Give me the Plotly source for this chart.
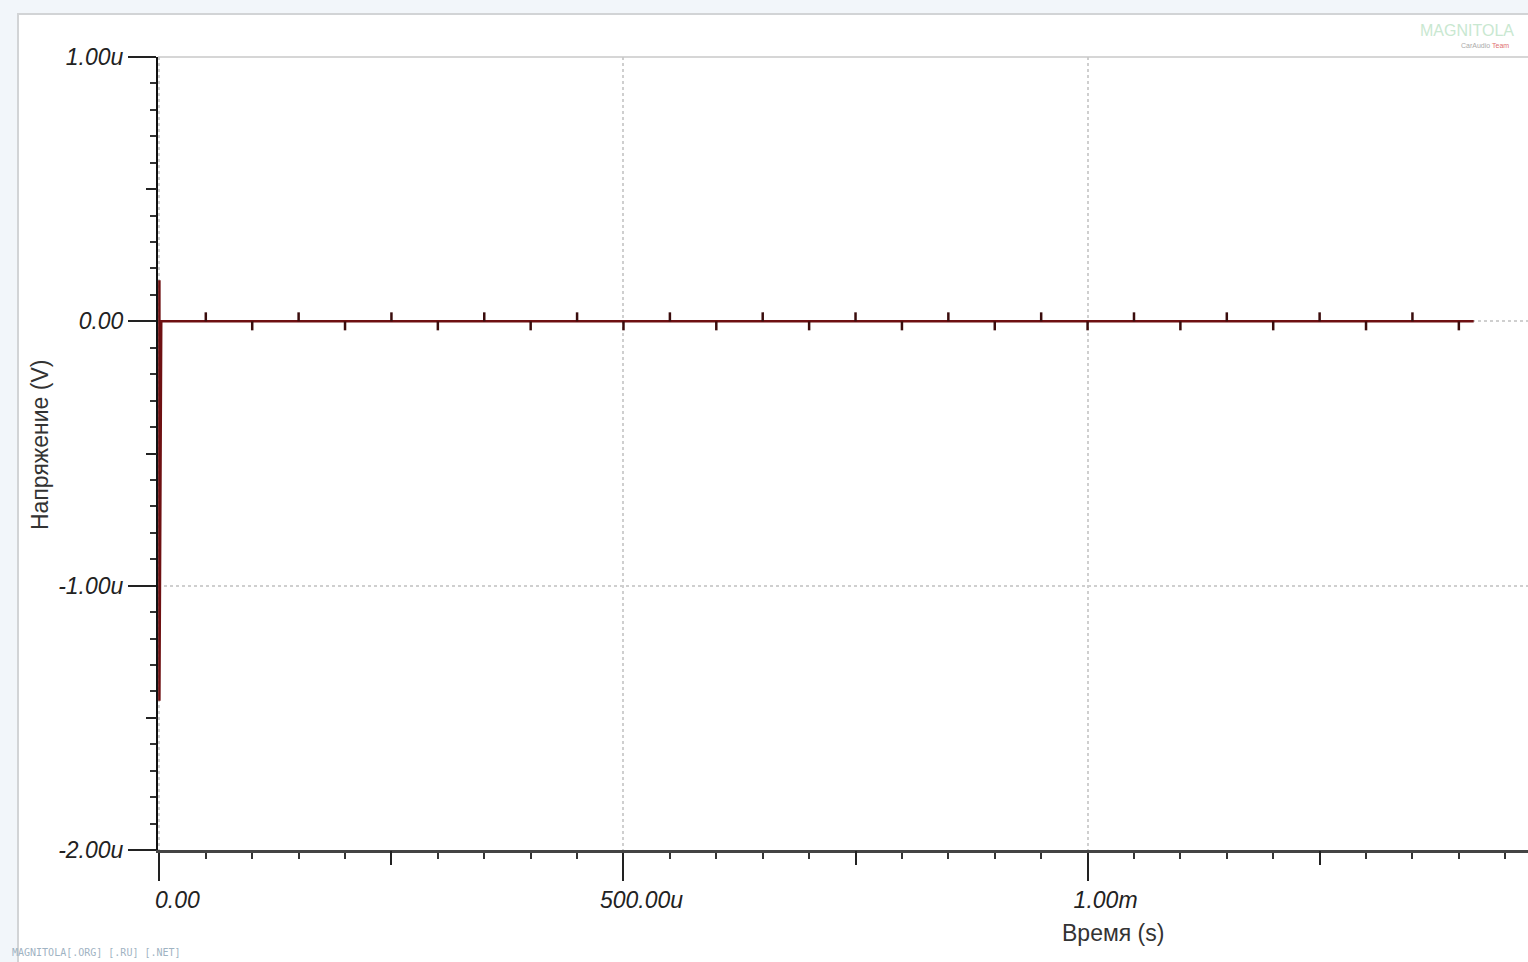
import plotly.graph_objects as go

# ---- data ----
time_s = [0.0, 0.0, 0.0, 2e-6, 1.416e-3]
voltage_v = [0.0, 0.155e-6, -1.435e-6, 0.0, 0.0]

marker_times = [50e-6 * k for k in range(1, 29)]
marker_up = [k % 2 == 1 for k in range(1, 29)]

x_tickvals = [0.0, 500e-6, 1e-3]
x_ticktext = ["0.00", "500.00u", "1.00m"]
x_midticks = [250e-6, 750e-6, 1250e-6]
y_tickvals = [1e-6, 0.0, -1e-6, -2e-6]
y_ticktext = ["1.00u", "0.00", "-1.00u", "-2.00u"]
y_midticks = [0.5e-6, -0.5e-6, -1.5e-6]

x_title = "Время (s)"
y_title = "Напряжение (V)"

# ---- figure ----
W, H = 1528, 962
ML, MR, MT, MB = 158, 0, 57, 112
XR = [-1.5e-6, 1474.5e-6]
YR = [-2e-6, 1e-6]
px_per_v = (H - MT - MB) / (YR[1] - YR[0])
tick_len_v = 9 / px_per_v

fig = go.Figure()
fig.add_trace(go.Scatter(
    x=time_s, y=voltage_v, mode="lines",
    line=dict(color="#6e1012", width=2.5),
    showlegend=False, hoverinfo="skip"))
fig.add_trace(go.Scatter(
    x=marker_times, y=[0.0] * len(marker_times), mode="markers",
    marker=dict(size=1, opacity=0),
    error_y=dict(type="data", symmetric=False,
                 array=[tick_len_v if u else 0 for u in marker_up],
                 arrayminus=[0 if u else tick_len_v for u in marker_up],
                 color="#3a0c0c", thickness=2.5, width=0),
    showlegend=False, hoverinfo="skip"))
fig.add_trace(go.Scatter(x=[], y=[], xaxis="x2", yaxis="y2", showlegend=False))

tickfont = dict(family="Liberation Sans, Arial, sans-serif", size=23, color="#222", style="italic")

fig.update_layout(
    width=W, height=H,
    margin=dict(l=ML, r=MR, t=MT, b=MB, pad=0),
    paper_bgcolor="#f2f6fa", plot_bgcolor="white",
    xaxis=dict(range=XR, tickmode="array", tickvals=x_tickvals, ticktext=x_ticktext,
               ticks="outside", ticklen=28, tickwidth=2, tickcolor="#222",
               minor=dict(tickmode="linear", tick0=0, dtick=50e-6, ticks="outside",
                          ticklen=6, tickwidth=2, tickcolor="#333", showgrid=False),
               showline=True, linecolor="#444", linewidth=2.5,
               showgrid=True, gridcolor="#cfcfcf", griddash="dot", gridwidth=1.5,
               zeroline=False, tickfont=tickfont, ticklabelshift=18,
               layer="below traces"),
    yaxis=dict(range=YR, tickmode="array", tickvals=y_tickvals, ticktext=y_ticktext,
               ticks="outside", ticklen=28, tickwidth=2, tickcolor="#222",
               minor=dict(tickmode="linear", tick0=0, dtick=0.1e-6, ticks="outside",
                          ticklen=6, tickwidth=2, tickcolor="#333", showgrid=False),
               showline=True, linecolor="#111", linewidth=2,
               showgrid=True, gridcolor="#cfcfcf", griddash="dot", gridwidth=1.5,
               zeroline=False, tickfont=tickfont, layer="below traces"),
    xaxis2=dict(range=XR, overlaying="x", anchor="y", side="bottom",
                tickmode="array", tickvals=x_midticks, ticks="outside", ticklen=14,
                tickwidth=2, tickcolor="#222", showticklabels=False,
                showgrid=False, showline=False, zeroline=False, layer="below traces"),
    yaxis2=dict(range=YR, overlaying="y", anchor="x", side="left",
                tickmode="array", tickvals=y_midticks, ticks="outside", ticklen=11,
                tickwidth=2, tickcolor="#222", showticklabels=False,
                showgrid=False, showline=False, zeroline=False, layer="below traces"),
)

pw = W - ML - MR
ph = H - MT - MB
def px_x(p):
    return (p - ML) / pw
def px_y(p):
    return (H - MB - p) / ph

# white panel
fig.add_shape(type="rect", xref="paper", yref="paper",
              x0=px_x(18), x1=px_x(1540), y0=px_y(975), y1=px_y(14),
              fillcolor="white", line=dict(color="#d2d4d6", width=2), layer="below")
# top border line of plot area
fig.add_shape(type="line", xref="paper", yref="paper",
              x0=0, x1=1, y0=1, y1=1, line=dict(color="#c8c8c8", width=1.5))

def note(text, x, y, size, color, family="Liberation Sans, Arial, sans-serif", **kw):
    fig.add_annotation(text=text, xref="paper", yref="paper", x=px_x(x), y=px_y(y),
                       xanchor=kw.pop("xanchor", "center"), yanchor="middle",
                       showarrow=False, font=dict(family=family, size=size, color=color), **kw)

note(y_title, 40, 445, 23, "#333", textangle=-90)
note(x_title, 1113, 933, 23, "#333")

# watermarks
note("MAGNITOLA", 1467, 31, 16, "#c9e8d1",
     family="Liberation Sans Narrow, Liberation Sans, sans-serif")
note("CarAudio <span style='color:#e07070'>Team</span>", 1485, 45, 7, "#aaaaaa")
note("MAGNITOLA[.ORG] [.RU] [.NET]", 10, 953, 10, "#9fb3c3",
     family="DejaVu Sans Mono, monospace", xanchor="left")

fig.write_html("out.html", config={"displayModeBar": False},
               post_script="document.body.style.margin='0';")
